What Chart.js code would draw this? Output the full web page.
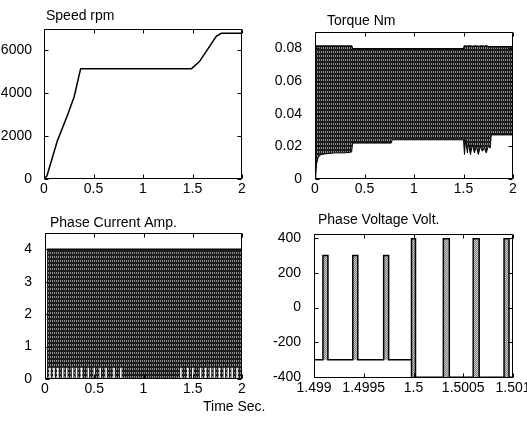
<!DOCTYPE html>
<html>
<head>
<meta charset="utf-8">
<script src="https://cdn.jsdelivr.net/npm/chart.js@4.4.1/dist/chart.umd.min.js"></script>
<style>
body { margin: 0; background: #fff; width: 527px; height: 425px; position: relative; overflow: hidden;
       font-family: "Liberation Sans", Arial, sans-serif; }
canvas { position: absolute; }
#timeLabel { position: absolute; left: 203px; top: 399px; font-size: 14px; line-height: 14px; color: #000; }
</style>
</head>
<body>
<canvas id="cSpeed" width="250" height="200" style="left:0;top:0"></canvas>
<canvas id="cTorque" width="255" height="200" style="left:265px;top:0"></canvas>
<canvas id="cCurrent" width="250" height="195" style="left:0;top:205px"></canvas>
<canvas id="cVoltage" width="262" height="194" style="left:265px;top:205px"></canvas>
<div id="timeLabel">Time Sec.</div>
<script>
// 1. DATOS

// Velocidad
const speedTime = [0, 0.03, 0.135, 0.236, 0.304, 0.37, 1.49, 1.57, 1.74, 1.79, 2.0];
const speedRpm  = [0, 150, 1780, 2960, 3830, 5150, 5150, 5480, 6660, 6800, 6800];

// Par: envolvente superior e inferior de la señal
const torqueTime  = [0, 0.008, 0.015, 0.03, 0.06, 0.12, 0.2, 0.3, 0.37, 0.38, 0.77, 0.78, 1.5, 1.51, 1.52, 1.54, 1.55,
                     1.57, 1.59, 1.61, 1.63, 1.65, 1.67, 1.69, 1.71, 1.73, 1.75, 1.77, 1.78, 2.0];
const torqueUpper = [0.0815, 0.0815, 0.0815, 0.0815, 0.0815, 0.0815, 0.0815, 0.0815, 0.0815, 0.0798, 0.0798, 0.0798, 0.0798,
                     0.0815, 0.0815, 0.0812, 0.0815, 0.0815, 0.0812, 0.0815, 0.0815, 0.0812, 0.0815, 0.0815, 0.0812, 0.0815,
                     0.081, 0.081, 0.081, 0.081];
const torqueLower = [0, 0.002, 0.009, 0.013, 0.015, 0.0155, 0.016, 0.016, 0.0165, 0.022, 0.022, 0.024, 0.024, 0.015,
                     0.024, 0.016, 0.022, 0.015, 0.021, 0.016, 0.02, 0.015, 0.02, 0.017, 0.019, 0.016, 0.02, 0.019,
                     0.027, 0.027];

// Corriente de fase: bloque de conmutación y huecos blancos abajo
const currentSpan   = [0.02, 2.0];
const currentPeak   = [4, 4];
const currentGapTop = 0.35;
const currentGapX   = [0.05, 0.09, 0.13, 0.18, 0.22, 0.28, 0.32, 0.37, 0.44, 0.5, 0.56, 0.62, 0.7, 0.77,
                       1.38, 1.45, 1.5, 1.58, 1.63, 1.68, 1.72, 1.77, 1.82, 1.86, 1.9, 1.95];

// Tensión de fase: dos tramos (antes y después de t = 1.5 s)
const voltSpan     = [[1.499, 1.49998], [1.49998, 1.501]];
const voltBase     = [-300, -400];
const voltPeak     = [300, 395];
const voltPulseOn  = [[1.49909, 1.49939, 1.4997], [1.49998, 1.5003, 1.5006, 1.50091]];
const voltPulseOff = [[1.49914, 1.49944, 1.49975], [1.50002, 1.50036, 1.50066, 1.50096]];

// Ticks
const timeTicks      = [0, 0.5, 1, 1.5, 2];
const timeLabels     = ['0', '0.5', '1', '1.5', '2'];
const speedTicks     = [0, 2000, 4000, 6000];
const speedLabels    = ['0', '2000', '4000', '6000'];
const torqueTicks    = [0, 0.02, 0.04, 0.06, 0.08];
const torqueLabels   = ['0', '0.02', '0.04', '0.06', '0.08'];
const currentTicks   = [0, 1, 2, 3, 4];
const currentLabels  = ['0', '1', '2', '3', '4'];
const voltTimeTicks  = [1.499, 1.4995, 1.5, 1.5005, 1.501];
const voltTimeLabels = ['1.499', '1.4995', '1.5', '1.5005', '1.501'];
const voltTicks      = [-400, -200, 0, 200, 400];
const voltLabels     = ['-400', '-200', '0', '200', '400'];

// 2. ESTILO GENERAL
const FONT = '"Liberation Sans", Arial, sans-serif';
Chart.defaults.font.family = FONT;
Chart.defaults.font.size = 14;
Chart.defaults.color = '#000';

function textura(base, luz, regla) {
    const t = document.createElement('canvas');
    t.width = 4; t.height = 4;
    const c = t.getContext('2d');
    c.fillStyle = base; c.fillRect(0, 0, 4, 4);
    c.fillStyle = luz;
    for (let x = 0; x < 4; x++) for (let y = 0; y < 4; y++) if (regla(x, y)) c.fillRect(x, y, 1, 1);
    return c.createPattern(t, 'repeat');
}
const relleno = textura('#1e1e1e', '#8c8c8c', (x, y) => x % 2 === 0 && (y === 0 || y === 3));
const rellenoPulso = textura('#7a7a7a', '#d0d0d0', (x, y) => (x + y) % 2 === 0);

// marco y ticks hacia dentro, como en MATLAB
const marco = {
    id: 'marco',
    afterDraw(chart) {
        const { ctx, chartArea: a, scales } = chart;
        const L = Math.round(a.left) + 0.5, R = Math.round(a.right) - 0.5;
        const T = Math.round(a.top) + 0.5, B = Math.round(a.bottom) - 0.5;
        ctx.save();
        ctx.strokeStyle = '#000';
        ctx.lineWidth = 1;
        ctx.setLineDash([]);
        ctx.beginPath();
        ctx.rect(L, T, R - L, B - T);
        scales.x.ticks.forEach(t => {
            const p = Math.round(scales.x.getPixelForValue(t.value)) + 0.5;
            ctx.moveTo(p, B); ctx.lineTo(p, B - 4);
            ctx.moveTo(p, T); ctx.lineTo(p, T + 4);
        });
        scales.y.ticks.forEach(t => {
            const p = Math.round(scales.y.getPixelForValue(t.value)) + 0.5;
            ctx.moveTo(L, p); ctx.lineTo(L + 4, p);
            ctx.moveTo(R, p); ctx.lineTo(R - 4, p);
        });
        ctx.stroke();
        ctx.restore();
    }
};

const titulo = {
    id: 'titulo',
    afterDraw(chart, args, opts) {
        const { ctx, chartArea: a } = chart;
        ctx.save();
        ctx.font = '14px ' + FONT;
        ctx.fillStyle = '#000';
        ctx.textBaseline = 'alphabetic';
        ctx.fillText(opts.text, a.left + opts.dx, a.top - opts.dy);
        ctx.restore();
    }
};

// 3. CREAR CADA PANEL
function panel(id, p) {
    new Chart(document.getElementById(id), {
        type: 'line',
        data: { datasets: p.datasets },
        options: {
            responsive: false,
            animation: false,
            events: [],
            layout: { padding: { top: p.padTop, right: p.padRight, left: 0, bottom: 0 } },
            elements: { point: { radius: 0 }, line: { tension: 0 } },
            plugins: { legend: { display: false }, tooltip: { enabled: false },
                       titulo: { text: p.title, dx: p.dx, dy: p.dy } },
            scales: {
                x: {
                    type: 'linear', min: p.xMin, max: p.xMax,
                    grid: { display: false }, border: { display: false },
                    afterBuildTicks: s => { s.ticks = p.xTicks.map(v => ({ value: v })); },
                    afterFit: s => { s.height = 21; s.paddingLeft = 0; s.paddingRight = 0; },
                    ticks: { autoSkip: false, maxRotation: 0, padding: -6, callback: (v, i) => p.xLabels[i] }
                },
                y: {
                    type: 'linear', min: p.yMin, max: p.yMax,
                    grid: { display: false }, border: { display: false },
                    afterBuildTicks: s => { s.ticks = p.yTicks.map(v => ({ value: v })); },
                    afterFit: s => { s.width = p.yWidth; s.paddingTop = 0; s.paddingBottom = 0; },
                    ticks: { autoSkip: false, padding: p.yPad, callback: (v, i) => p.yLabels[i] }
                }
            }
        },
        plugins: [marco, titulo]
    });
}

const puntos = (xs, ys) => xs.map((x, i) => ({ x, y: ys[i] }));

panel('cSpeed', {
    title: 'Speed rpm', dx: 2, dy: 9,
    padTop: 29, padRight: 8, yWidth: 44, yPad: 4,
    xMin: 0, xMax: 2, yMin: 0, yMax: 7000,
    xTicks: timeTicks, xLabels: timeLabels, yTicks: speedTicks, yLabels: speedLabels,
    datasets: [{ data: puntos(speedTime, speedRpm), borderColor: '#000', borderWidth: 1.5, fill: false }]
});

panel('cTorque', {
    title: 'Torque Nm', dx: 12, dy: 7,
    padTop: 32, padRight: 7, yWidth: 50, yPad: 5,
    xMin: 0, xMax: 2, yMin: 0, yMax: 0.09,
    xTicks: timeTicks, xLabels: timeLabels, yTicks: torqueTicks, yLabels: torqueLabels,
    datasets: [
        { data: puntos(torqueTime, torqueLower), borderColor: '#000', borderWidth: 1, fill: false },
        { data: puntos(torqueTime, torqueUpper), borderColor: '#000', borderWidth: 1.5, fill: '-1', backgroundColor: relleno }
    ]
});

const huecos = [];
currentGapX.forEach(x => { huecos.push({ x, y: 0 }, { x, y: currentGapTop }, { x, y: null }); });

panel('cCurrent', {
    title: 'Phase Current Amp.', dx: 5, dy: 6,
    padTop: 28, padRight: 8, yWidth: 45, yPad: 5,
    xMin: 0, xMax: 2, yMin: 0, yMax: 4.5,
    xTicks: timeTicks, xLabels: timeLabels, yTicks: currentTicks, yLabels: currentLabels,
    datasets: [
        { data: huecos, borderColor: '#fff', borderWidth: 1.5, fill: false, spanGaps: false },
        { data: puntos(currentSpan, currentPeak), borderColor: '#000', borderWidth: 1.5, fill: 'origin', backgroundColor: relleno }
    ]
});

const tramos = voltSpan.map((span, k) => {
    const pts = [{ x: span[0], y: voltBase[k] }];
    voltPulseOn[k].forEach((on, j) => {
        const off = voltPulseOff[k][j];
        pts.push({ x: on, y: voltBase[k] }, { x: on, y: voltPeak[k] }, { x: off, y: voltPeak[k] }, { x: off, y: voltBase[k] });
    });
    pts.push({ x: span[1], y: voltBase[k] });
    return { data: pts, borderColor: '#000', borderWidth: 1.5, fill: { value: voltBase[k] }, backgroundColor: rellenoPulso };
});

panel('cVoltage', {
    title: 'Phase Voltage Volt.', dx: 4, dy: 10,
    padTop: 29, padRight: 14, yWidth: 49, yPad: 5,
    xMin: 1.499, xMax: 1.501, yMin: -405, yMax: 423,
    xTicks: voltTimeTicks, xLabels: voltTimeLabels, yTicks: voltTicks, yLabels: voltLabels,
    datasets: tramos
});
</script>
</body>
</html>
